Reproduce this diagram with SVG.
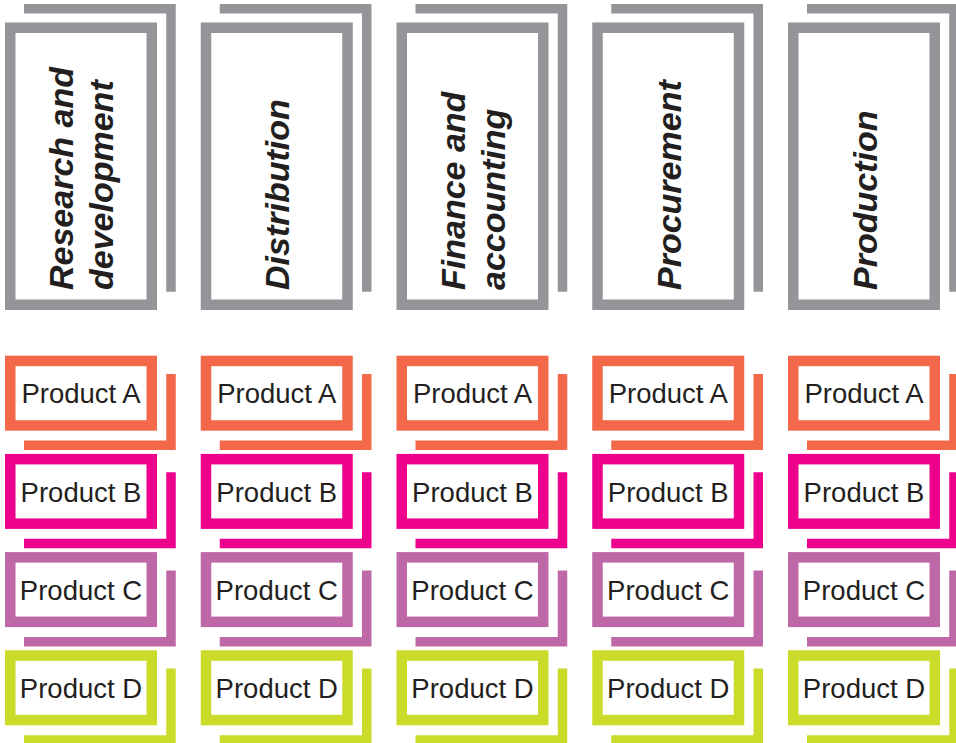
<svg xmlns="http://www.w3.org/2000/svg" width="956" height="743" viewBox="0 0 956 743">
<style>
.bx{fill:#fff;stroke-width:10.5}
.bk{fill:none;stroke-width:9.5;stroke-linejoin:miter;stroke-linecap:butt}
.g{stroke:#939598}
.a{stroke:#F26849}
.b{stroke:#EC008C}
.c{stroke:#BF68A8}
.d{stroke:#CBDB2A}
.fn{font-family:"Liberation Sans",Arial,sans-serif;font-weight:bold;font-style:italic;font-size:34px;fill:#231F20}
.pt{font-family:"Liberation Sans",Arial,sans-serif;font-size:27.5px;fill:#231F20;text-anchor:middle}
</style>
<defs>
<g id="fbox">
<path class="bk g" d="M24 8.65H171V291.7"/>
<rect class="bx g" x="10.25" y="27.75" width="141.5" height="277"/>
</g>
<g id="pa"><path class="bk a" d="M24 445.3H171V374"/><rect class="bx a" x="10.25" y="360.95" width="141.5" height="64.5"/><text class="pt" x="81" y="403.3">Product A</text></g>
<g id="pb"><path class="bk b" d="M24 543.5H171V472.2"/><rect class="bx b" x="10.25" y="459.15" width="141.5" height="64.5"/><text class="pt" x="81" y="501.5">Product B</text></g>
<g id="pc"><path class="bk c" d="M24 641.7H171V570.4"/><rect class="bx c" x="10.25" y="557.35" width="141.5" height="64.5"/><text class="pt" x="81" y="599.7">Product C</text></g>
<g id="pd"><path class="bk d" d="M24 739.9H171V668.6"/><rect class="bx d" x="10.25" y="655.55" width="141.5" height="64.5"/><text class="pt" x="81" y="697.9">Product D</text></g>
</defs>
<g id="func-rd"><use href="#fbox"/><text class="fn" transform="translate(73,290) rotate(-90)"><tspan x="0" y="0">Research and</tspan><tspan x="0" y="40">development</tspan></text></g>
<g id="func-dist" transform="translate(195.75,0)"><use href="#fbox"/><text class="fn" transform="translate(93.5,290) rotate(-90)">Distribution</text></g>
<g id="func-fin" transform="translate(391.5,0)"><use href="#fbox"/><text class="fn" transform="translate(73,290) rotate(-90)"><tspan x="0" y="0">Finance and</tspan><tspan x="0" y="40">accounting</tspan></text></g>
<g id="func-proc" transform="translate(587.25,0)"><use href="#fbox"/><text class="fn" transform="translate(93.5,290) rotate(-90)">Procurement</text></g>
<g id="func-prod" transform="translate(783,0)"><use href="#fbox"/><text class="fn" transform="translate(93.5,290) rotate(-90)">Production</text></g>
<g id="rd-a"><use href="#pa"/></g><g id="rd-b"><use href="#pb"/></g><g id="rd-c"><use href="#pc"/></g><g id="rd-d"><use href="#pd"/></g>
<g id="dist-a" transform="translate(195.75,0)"><use href="#pa"/></g><g id="dist-b" transform="translate(195.75,0)"><use href="#pb"/></g><g id="dist-c" transform="translate(195.75,0)"><use href="#pc"/></g><g id="dist-d" transform="translate(195.75,0)"><use href="#pd"/></g>
<g id="fin-a" transform="translate(391.5,0)"><use href="#pa"/></g><g id="fin-b" transform="translate(391.5,0)"><use href="#pb"/></g><g id="fin-c" transform="translate(391.5,0)"><use href="#pc"/></g><g id="fin-d" transform="translate(391.5,0)"><use href="#pd"/></g>
<g id="proc-a" transform="translate(587.25,0)"><use href="#pa"/></g><g id="proc-b" transform="translate(587.25,0)"><use href="#pb"/></g><g id="proc-c" transform="translate(587.25,0)"><use href="#pc"/></g><g id="proc-d" transform="translate(587.25,0)"><use href="#pd"/></g>
<g id="prod-a" transform="translate(783,0)"><use href="#pa"/></g><g id="prod-b" transform="translate(783,0)"><use href="#pb"/></g><g id="prod-c" transform="translate(783,0)"><use href="#pc"/></g><g id="prod-d" transform="translate(783,0)"><use href="#pd"/></g>
<g id="connectors"/>
</svg>
